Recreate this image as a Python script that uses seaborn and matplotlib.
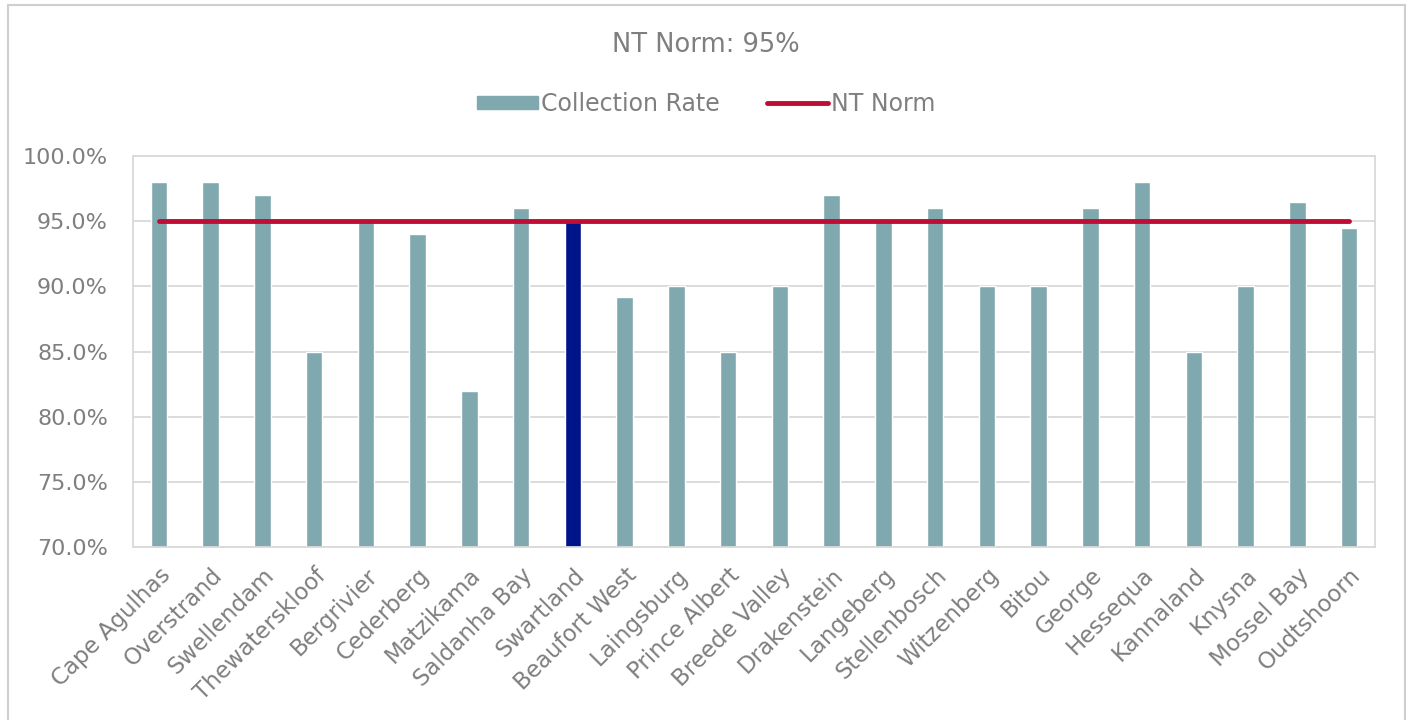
import matplotlib
matplotlib.use("Agg")
import matplotlib.pyplot as plt
import matplotlib.patches as mpatches
from matplotlib.lines import Line2D
from matplotlib.ticker import FuncFormatter
import seaborn as sns
import pandas as pd

# municipalities and collection rates (%)
municipalities = [
    "Cape Agulhas", "Overstrand", "Swellendam", "Thewaterskloof", "Bergrivier",
    "Cederberg", "Matzikama", "Saldanha Bay", "Swartland", "Beaufort West",
    "Laingsburg", "Prince Albert", "Breede Valley", "Drakenstein", "Langeberg",
    "Stellenbosch", "Witzenberg", "Bitou", "George", "Hessequa", "Kannaland",
    "Knysna", "Mossel Bay", "Oudtshoorn",
]
collection_rate = [
    98.0, 98.0, 97.0, 85.0, 95.0,
    94.0, 82.0, 96.0, 95.0, 89.2,
    90.0, 85.0, 90.0, 97.0, 95.0,
    96.0, 90.0, 90.0, 96.0, 98.0, 85.0,
    90.0, 96.5, 94.5,
]
nt_norm = [95.0] * len(municipalities)
highlight = "Swartland"

TEAL = "#7FA9AF"
NAVY = "#00148A"
RED = "#C00D36"
TEXT = "#7F7F7F"
GRID = "#D9D9D9"

sns.set_theme(style="white")
plt.rcParams["font.family"] = ["DejaVu Sans"]

df = pd.DataFrame({"Municipality": municipalities, "Rate": collection_rate})
palette = {m: (NAVY if m == highlight else TEAL) for m in municipalities}

fig = plt.figure(figsize=(14.12, 7.2), dpi=100)
ax = fig.add_axes([133 / 1412, 1 - 547 / 720, (1375 - 133) / 1412, (547 - 156) / 720])

sns.barplot(data=df, x="Municipality", y="Rate", hue="Municipality",
            palette=palette, saturation=1, width=0.32, legend=False, ax=ax, zorder=2)
ax.plot(range(len(municipalities)), nt_norm, color=RED, lw=3.5,
        solid_capstyle="round", zorder=3)

ax.set_ylim(70, 100)
ax.set_xlim(-0.5, len(municipalities) - 0.5)
ax.set_yticks([70, 75, 80, 85, 90, 95, 100])
ax.yaxis.set_major_formatter(FuncFormatter(lambda v, p: f"{v:.1f}%"))
ax.grid(axis="y", color=GRID, lw=1.3, zorder=0)
ax.set_axisbelow(True)
ax.set_xlabel("")
ax.set_ylabel("")
for s in ax.spines.values():
    s.set_color(GRID)
    s.set_linewidth(1.3)
ax.tick_params(axis="both", length=0, colors=TEXT)
ax.tick_params(axis="y", pad=18, labelsize=16)
ax.tick_params(axis="x", pad=12, labelsize=16.5)
plt.setp(ax.get_xticklabels(), rotation=45, ha="right", rotation_mode="anchor")

fig.text(0.5, 1 - 45 / 720, "NT Norm: 95%", ha="center", va="center",
         fontsize=18.5, color=TEXT)

handles = [
    mpatches.Patch(color=TEAL, label="Collection Rate"),
    Line2D([0], [0], color=RED, lw=3.5, label="NT Norm"),
]
fig.legend(handles=handles, loc="center", bbox_to_anchor=(0.5, 1 - 104 / 720),
           ncol=2, frameon=False, fontsize=17, labelcolor=TEXT,
           handlelength=2.6, handleheight=0.5, handletextpad=0.1, columnspacing=2.0)

border = mpatches.Rectangle((8 / 1412, -0.05), (1405 - 8) / 1412, 1.05 - 5 / 720,
                            transform=fig.transFigure, fill=False,
                            edgecolor="#D0CECE", lw=1.5)
fig.patches.append(border)

fig.savefig("out.png", dpi=100)
